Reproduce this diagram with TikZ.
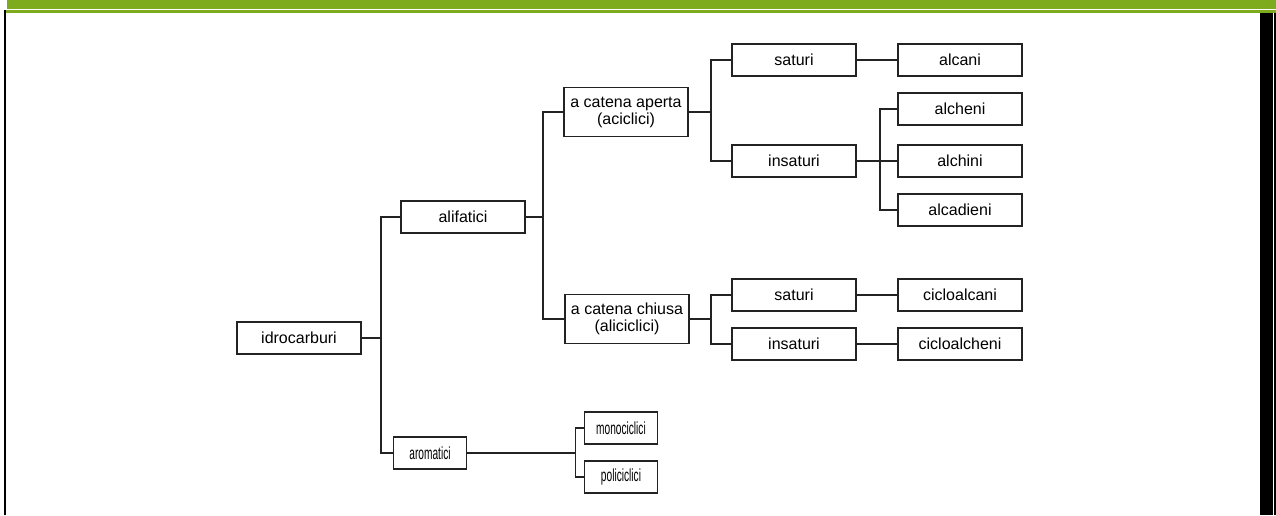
\documentclass[tikz,border=0pt]{standalone}
\usepackage{fontspec}
\setmainfont{Liberation Sans}
\newfontfamily\narrowfont[FakeStretch=0.58]{Liberation Sans}
\definecolor{bargreen}{RGB}{126,170,30}
\definecolor{ink}{RGB}{35,35,35}
\tikzset{
    box/.style={draw=ink, line width=1.7pt, minimum width=124pt, minimum height=32pt,
        inner sep=0pt, align=center, font=\fontsize{16}{17}\selectfont},
    smallbox/.style={box, minimum width=73pt, font=\narrowfont\fontsize{17.5}{18}\selectfont},
    tallbox/.style={box, minimum height=49pt},
    link/.style={draw=ink, line width=1.4pt}
}
\begin{document}
\begin{tikzpicture}[x=1pt, y=-1pt]
    \useasboundingbox (0,0) rectangle (1276,515);
    % frame
    \fill[bargreen] (7,0) rectangle (1276,9);
    \fill[bargreen] (5,10) rectangle (1276,12.5);
    \fill[black] (4,10) rectangle (5.5,515);
    \fill[black] (1260,13) rectangle (1273,515);
    \fill[black] (1274.2,13) rectangle (1276,515);

    % tree
    \node[box] (idro) at (299,338) {idrocarburi};
    \node[box] (alif) at (463,217) {alifatici};
    \node[smallbox] (arom) at (430,453) {aromatici};
    \node[tallbox] (aperta) at (626,112) {a catena aperta\\(aciclici)};
    \node[tallbox] (chiusa) at (627,319) {a catena chiusa\\(aliciclici)};
    \node[box] (satA) at (794,60) {saturi};
    \node[box] (insA) at (794,161) {insaturi};
    \node[box] (alcani) at (960,60) {alcani};
    \node[box] (alcheni) at (960,109) {alcheni};
    \node[box] (alchini) at (960,161) {alchini};
    \node[box] (alcadieni) at (960,210) {alcadieni};
    \node[box] (satB) at (794,295) {saturi};
    \node[box] (insB) at (794,344) {insaturi};
    \node[box] (cicloalcani) at (960,295) {cicloalcani};
    \node[box] (cicloalcheni) at (960,344) {cicloalcheni};
    \node[smallbox] (mono) at (621,428) {monociclici};
    \node[smallbox] (poli) at (621,477) {policiclici};

    \draw[link] (idro.east) -- ++(19,0) |- (alif.west);
    \draw[link] (idro.east) -- ++(19,0) |- (arom.west);
    \draw[link] (alif.east) -- ++(17,0) |- (aperta.west);
    \draw[link] (alif.east) -- ++(17,0) |- (chiusa.west);
    \draw[link] (aperta.east) -- ++(22,0) |- (satA.west);
    \draw[link] (aperta.east) -- ++(22,0) |- (insA.west);
    \draw[link] (satA) -- (alcani);
    \draw[link] (insA.east) -- ++(23,0) |- (alcheni.west);
    \draw[link] (insA) -- (alchini);
    \draw[link] (insA.east) -- ++(23,0) |- (alcadieni.west);
    \draw[link] (chiusa.east) -- ++(21,0) |- (satB.west);
    \draw[link] (chiusa.east) -- ++(21,0) |- (insB.west);
    \draw[link] (satB) -- (cicloalcani);
    \draw[link] (insB) -- (cicloalcheni);
    \draw[link] (arom.east) -- ++(108,0) |- (mono.west);
    \draw[link] (arom.east) -- ++(108,0) |- (poli.west);
\end{tikzpicture}
\end{document}
